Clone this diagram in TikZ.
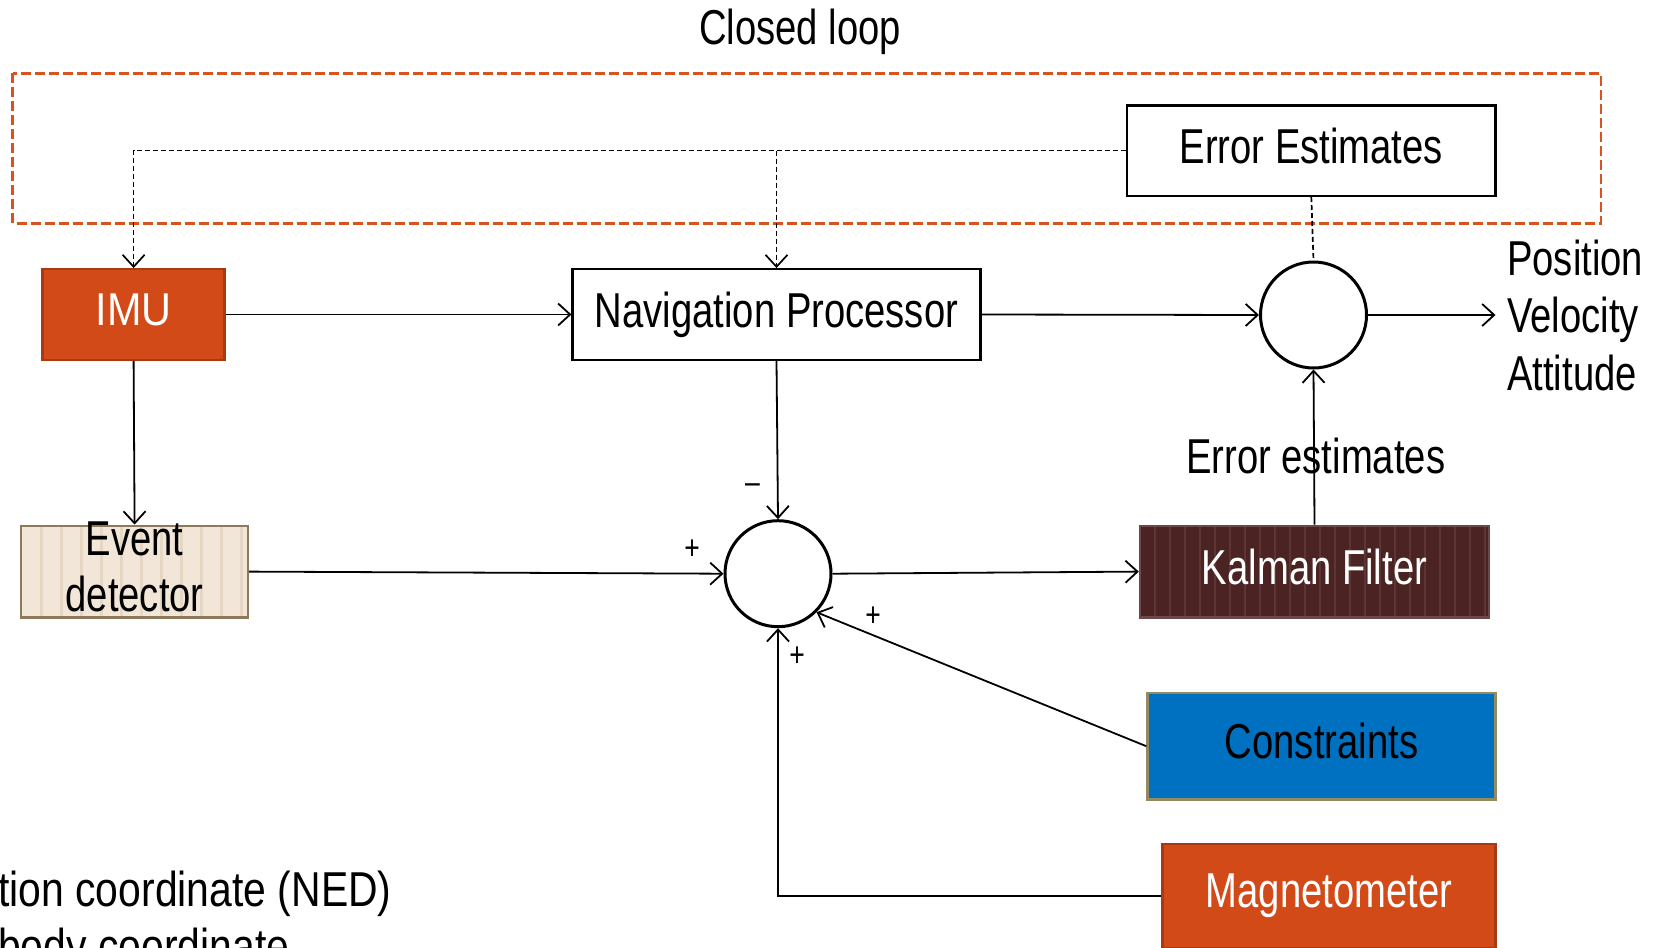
\documentclass[tikz,border=0pt]{standalone}
\usepackage{fontspec}
\setmainfont[FakeStretch=0.78]{Liberation Sans}
\newfontfamily\imufont[FakeStretch=0.9]{Liberation Sans}
\newfontfamily\notefont[FakeStretch=0.835]{Liberation Sans}
\usetikzlibrary{arrows.meta}
\definecolor{orng}{HTML}{D24A18}
\definecolor{orngb}{HTML}{A63A12}
\definecolor{loopc}{HTML}{D9531E}
\definecolor{kalf}{HTML}{4B2323}
\definecolor{kals}{HTML}{5E3535}
\definecolor{kalb}{HTML}{6E4848}
\definecolor{evf}{HTML}{F2E6D8}
\definecolor{evs}{HTML}{E6D6C4}
\definecolor{evb}{HTML}{8C7A5A}
\definecolor{conf}{HTML}{0070C0}
\definecolor{conb}{HTML}{948A60}
\begin{document}
\begin{tikzpicture}[x=1pt,y=-1pt,
  big/.style={font=\fontsize{49}{57}\selectfont},
  box/.style={draw, line width=2.4pt, inner sep=0pt, align=center, big, text depth=10pt},
  conn/.style={->, line width=1.8pt},
  fb/.style={dash pattern=on 5pt off 3pt, line width=1.7pt},
  sumc/.style={circle, draw, line width=3pt, minimum size=106pt, inner sep=0pt},
  sign/.style={font=\fontsize{34}{34}\selectfont, inner sep=0pt},
  >={Straight Barb[length=12pt,width=22pt]},
  kalstripes/.style={path picture={\foreach \k in {1,...,23} \draw[kals, line width=2.5pt] ([xshift=\k*15pt]path picture bounding box.north west) -- ([xshift=\k*15pt]path picture bounding box.south west);}},
  evstripes/.style={path picture={\foreach \k in {1,...,11} \draw[evs, line width=3pt] ([xshift=\k*20pt]path picture bounding box.north west) -- ([xshift=\k*20pt]path picture bounding box.south west);}}
]
\useasboundingbox (0,0) rectangle (1669,947);
\clip (0,0) rectangle (1669,947);
\fill[white] (0,0) rectangle (1669,947);

% closed loop frame
\draw[loopc, line width=2.8pt, dash pattern=on 10pt off 4pt] (12.8,73.4) rectangle (1601,223.5);
\node[big, inner sep=0pt] (title) at (800,32) {Closed loop};

% nodes
\node[box, fill=orng, draw=orngb, text=white, minimum width=182pt, minimum height=90.5pt, font=\imufont\fontsize{46}{50}\selectfont] (imu) at (133.6,314.5) {IMU};
\node[box, fill=white, minimum width=407.7pt, minimum height=90.5pt] (nav) at (776.5,314.5) {Navigation Processor};
\node[box, fill=white, minimum width=368.5pt, minimum height=90.4pt] (ee) at (1311.3,150.6) {Error Estimates};
\node[sumc] (out) at (1313.5,315) {};
\node[big, inner sep=0pt, anchor=west, align=left, font=\fontsize{49}{57.5}\selectfont] (pva) at (1507,315) {Position\\Velocity\\Attitude};
\coordinate (oend) at (1495.5,315);
\node[big, inner sep=0pt] (errlab) at (1315.6,455.6) {Error estimates};
\node[box, fill=kalf, draw=kalb, text=white, kalstripes, minimum width=349pt, minimum height=91.6pt] (kal) at (1314.5,571.6) {Kalman Filter};
\node[box, fill=evf, draw=evb, evstripes, minimum width=226.7pt, minimum height=91.6pt, inner ysep=-5.5pt, font=\fontsize{49}{56.4}\selectfont] (ev) at (134.6,571.6) {Event\\detector};
\node[sumc] (sum) at (778,573.7) {};
\node[box, fill=conf, draw=conb, minimum width=348pt, minimum height=106.4pt] (con) at (1321.5,746.2) {Constraints};
\node[box, fill=orng, draw=orngb, text=white, minimum width=333.2pt, minimum height=104pt] (mag) at (1328.9,896) {Magnetometer};
\node[inner sep=0pt, anchor=west, align=left, font=\notefont\fontsize{49}{57}\selectfont] (note) at (-2,922) {tion coordinate (NED)\\body coordinate};

% signs
\node[sign] (sm) at (752.5,488.6) {–};
\node[sign] (s1) at (692,550) {+};
\node[sign] (s2) at (873,617) {+};
\node[sign] (s3) at (797,657) {+};

% feedback dashed
\draw[fb, ->] (ee.west) -| (imu.north);
\draw[fb, ->] (nav.north |- ee.west) -- (nav.north);
\draw[fb] (ee.south) -- (out.north);

% connectors
\draw[conn] (imu.east) -- (nav.west);
\draw[conn] (nav.east) -- (out.west);
\draw[conn] (out.east) -- (oend);
\draw[conn] (imu.south) -- (ev.north);
\draw[conn] (nav.south) -- (sum.north);
\draw[conn] (ev.east) -- (sum.west);
\draw[conn] (sum.east) -- (kal.west);
\draw[conn] (kal.north) -- (out.south);
\draw[conn] (con.west) -- (sum.-45);
\draw[conn] (mag.west) -| (sum.south);
\end{tikzpicture}
\end{document}
